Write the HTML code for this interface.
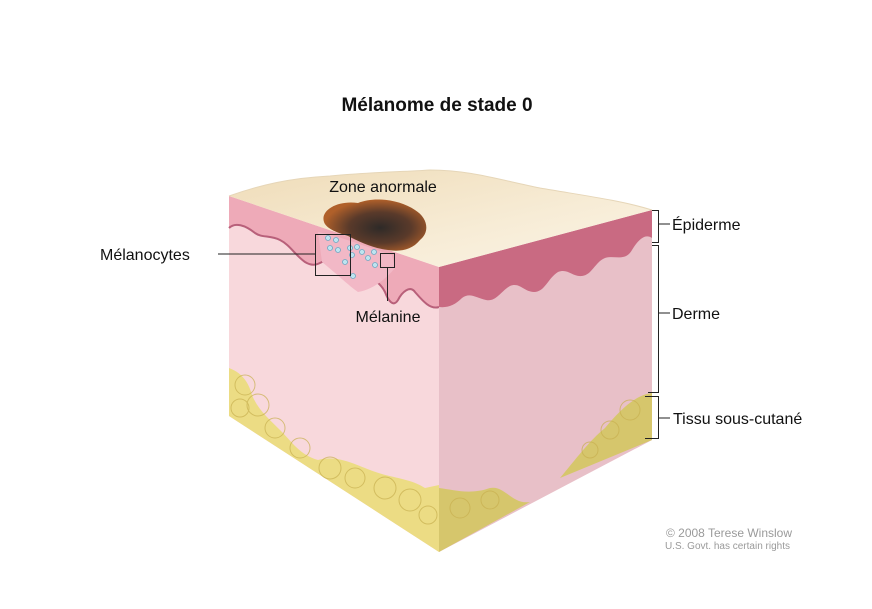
<!DOCTYPE html>
<html><head><meta charset="utf-8"><style>
html,body{margin:0;padding:0;background:#fff;}
svg{display:block;font-family:"Liberation Sans",Arial,sans-serif;}
</style></head><body>
<svg width="872" height="609" viewBox="0 0 872 609">
<defs>
<linearGradient id="top" x1="0" y1="0" x2="1" y2="1">
<stop offset="0" stop-color="#efdcb8"/><stop offset="0.6" stop-color="#f7ecd6"/><stop offset="1" stop-color="#fbf4e6"/></linearGradient>
<radialGradient id="les" cx="0.55" cy="0.55" r="0.55">
<stop offset="0" stop-color="#2e2a28"/><stop offset="0.55" stop-color="#5a3a2a"/><stop offset="1" stop-color="#b0602a"/></radialGradient>
</defs>
<text x="437" y="111" text-anchor="middle" font-size="19" font-weight="bold" fill="#111">Mélanome de stade 0</text>
<!-- left face -->
<polygon points="229,196 439,267 439,552 229,416" fill="#f8d8dc"/>
<!-- left epidermis -->
<path d="M229,196 L439,267 L439,307 C430,310 422,300 415,292 C410,285 402,292 398,300 C393,308 388,300 385,292 C380,282 372,278 362,275 C352,270 345,258 335,258 C322,258 318,270 305,262 C295,255 290,245 280,240 C270,235 262,238 255,233 C245,225 235,222 229,228 Z" fill="#eeaab8"/>
<path d="M229,228 C235,222 245,225 255,233 C262,238 270,235 280,240 C290,245 295,255 305,262 C318,270 322,258 335,258 C345,258 352,270 362,275 C372,278 380,282 385,292 C388,300 393,308 398,300 C402,292 410,285 415,292 C422,300 430,310 439,307" fill="none" stroke="#b8607a" stroke-width="2"/>
<!-- right face -->
<polygon points="439,267 652,210 652,440 439,552" fill="#e8c0c8"/>
<path d="M439,267 L652,210 L652,238 C645,233 638,240 632,250 C625,262 615,255 605,258 C595,262 592,275 582,276 C572,277 568,268 558,272 C548,278 545,292 534,292 C524,292 520,282 510,286 C500,292 496,302 486,300 C476,298 470,292 462,298 C455,305 448,308 439,307 Z" fill="#c96a82"/>
<!-- fat left -->
<path d="M229,368 C240,372 248,380 252,395 C258,410 270,420 280,430 C292,442 300,455 318,460 C335,455 350,462 370,470 C390,478 410,478 425,488 L439,485 L439,552 L229,416 Z" fill="#ecdc84"/>
<path d="M439,488 C455,490 470,495 490,488 C505,485 512,505 530,502 L439,552 Z" fill="#d6c66c"/>
<path d="M560,478 C575,460 590,440 605,428 C620,410 635,395 652,393 L652,440 Z" fill="#d6c66c"/>
<g fill="none" stroke="#c8b050" stroke-width="1" opacity="0.7">
<circle cx="245" cy="385" r="10"/><circle cx="258" cy="405" r="11"/><circle cx="240" cy="408" r="9"/><circle cx="275" cy="428" r="10"/><circle cx="300" cy="448" r="10"/><circle cx="330" cy="468" r="11"/><circle cx="355" cy="478" r="10"/><circle cx="385" cy="488" r="11"/><circle cx="410" cy="500" r="11"/><circle cx="428" cy="515" r="9"/><circle cx="460" cy="508" r="10"/><circle cx="490" cy="500" r="9"/><circle cx="630" cy="410" r="10"/><circle cx="610" cy="430" r="9"/><circle cx="590" cy="450" r="8"/>
</g>
<!-- top face -->
<path d="M229,196 C260,185 290,178 330,176 C370,172 400,172 430,170 C470,170 500,180 540,188 C580,195 620,200 652,210 L439,267 Z" fill="url(#top)"/>
<path d="M229,196 C260,185 290,178 330,176 C370,172 400,172 430,170 C470,170 500,180 540,188 C580,195 620,200 652,210" fill="none" stroke="#e6d6b8" stroke-width="1"/>
<!-- lesion -->
<path d="M324,222 C320,210 338,200 358,203 C375,196 400,200 415,210 C428,218 430,232 420,240 C412,250 400,252 388,250 C372,248 360,242 348,236 C335,232 326,228 324,222 Z" fill="url(#les)"/>
<!-- melanocytes -->
<path d="M318,232 C340,236 360,245 392,255 L395,268 C385,280 372,290 358,292 C348,285 338,275 322,262 Z" fill="#f2b8c6"/>
<g fill="#bfe4f0" stroke="#6aa8c4" stroke-width="0.8">
<circle cx="328" cy="238" r="2.5"/><circle cx="336" cy="240" r="2.5"/><circle cx="330" cy="248" r="2.5"/><circle cx="338" cy="250" r="2.5"/><circle cx="350" cy="248" r="2.5"/><circle cx="357" cy="247" r="2.5"/><circle cx="352" cy="255" r="2.5"/><circle cx="362" cy="252" r="2.5"/><circle cx="368" cy="258" r="2.5"/><circle cx="374" cy="252" r="2.5"/><circle cx="375" cy="265" r="2.5"/><circle cx="353" cy="276" r="2.5"/><circle cx="345" cy="262" r="2.5"/>
</g>
<!-- leader lines -->
<g fill="none" stroke="#222" stroke-width="1">
<rect x="315.5" y="234.5" width="35" height="41"/>
<line x1="218" y1="254" x2="315" y2="254"/>
<rect x="380.5" y="253.5" width="14" height="14"/>
<line x1="387.5" y1="268" x2="387.5" y2="301"/>
<polyline points="652,210.5 658.5,210.5 658.5,242.5 652,242.5"/><line x1="658" y1="224" x2="670" y2="224"/>
<polyline points="652,245.5 658.5,245.5 658.5,392.5 648,392.5"/><line x1="658" y1="313" x2="670" y2="313"/>
<polyline points="645,396.5 658.5,396.5 658.5,438.5 645,438.5"/><line x1="658" y1="418" x2="670" y2="418"/>
</g>
<g font-size="16" fill="#111">
<text x="383" y="192" text-anchor="middle">Zone anormale</text>
<text x="100" y="260">Mélanocytes</text>
<text x="388" y="322" text-anchor="middle">Mélanine</text>
<text x="672" y="230">Épiderme</text>
<text x="672" y="319">Derme</text>
<text x="673" y="424">Tissu sous-cutané</text>
</g>
<text x="792" y="537" text-anchor="end" font-size="12" fill="#9a9a9a">© 2008 Terese Winslow</text>
<text x="790" y="549" text-anchor="end" font-size="10" fill="#9a9a9a">U.S. Govt. has certain rights</text>
</svg>
</body></html>
